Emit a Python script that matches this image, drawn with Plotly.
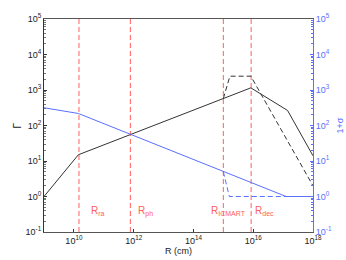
import math
import plotly.graph_objects as go

# ---- data ----
R_gamma = [1e9, 10**10.15, 10**15.92, 10**17.15, 1e18]
Gamma = [1.0, 15.0, 1150.0, 265.0, 14.0]

R_gamma_ic = [10**15.0, 10**15.22, 10**15.92, 1e18]
Gamma_ic = [575.0, 2450.0, 2450.0, 2.0]

R_sigma = [1e9, 10**10.15, 10**17.1, 1e18]
Sigma1 = [316.0, 218.0, 1.0, 1.0]

R_sigma_ic = [10**15.0, 10**15.2, 1e18]
Sigma1_ic = [5.0, 1.0, 1.0]

radii_names = ["ra", "ph", "ICMART", "dec"]
radii_vals = [10**10.17, 10**11.89, 10**15.0, 10**15.93]
label_x = [10**10.52, 10**12.07, 10**14.52, 10**15.99]
label_y = 10**-0.42

y_ticks = [1e-1, 1, 10, 100, 1e3, 1e4, 1e5]
y_ticktext = ["10<sup>-1</sup>", "10<sup>0</sup>", "10<sup>1</sup>", "10<sup>2</sup>",
              "10<sup>3</sup>", "10<sup>4</sup>", "10<sup>5</sup>"]
x_ticks = [1e10, 1e12, 1e14, 1e16, 1e18]
x_ticktext = ["10<sup>10</sup>", "10<sup>12</sup>", "10<sup>14</sup>", "10<sup>16</sup>", "10<sup>18</sup>"]

minor_vals = [m * 10**e for e in range(-1, 5) for m in range(2, 10)]

BLACK = "#333333"
BLUE = "#5a70ff"
RED = "#ff6060"
FONT = "Liberation Sans, Arial, sans-serif"
DASH = "5px,3px"

fig = go.Figure()

# red vertical radius markers
for rv in radii_vals:
    fig.add_trace(go.Scatter(x=[rv, rv], y=[1e-1, 1e5], mode="lines",
                             line=dict(color=RED, width=1, dash=DASH),
                             showlegend=False, hoverinfo="skip"))

fig.add_trace(go.Scatter(x=R_gamma, y=Gamma, mode="lines",
                         line=dict(color=BLACK, width=1), showlegend=False))
fig.add_trace(go.Scatter(x=R_gamma_ic, y=Gamma_ic, mode="lines",
                         line=dict(color=BLACK, width=1, dash=DASH), showlegend=False))
fig.add_trace(go.Scatter(x=R_sigma, y=Sigma1, mode="lines", yaxis="y2",
                         line=dict(color=BLUE, width=1), showlegend=False))
fig.add_trace(go.Scatter(x=R_sigma_ic, y=Sigma1_ic, mode="lines", yaxis="y2",
                         line=dict(color=BLUE, width=1, dash=DASH), showlegend=False))

# radius labels (annotation coords on log axes are log10 values)
for name, lx in zip(radii_names, label_x):
    fig.add_annotation(x=math.log10(lx), y=math.log10(label_y), xref="x", yref="y",
                       text="R<sub>" + name + "</sub>",
                       showarrow=False, xanchor="left", yanchor="middle",
                       font=dict(color=RED, size=10, family=FONT))

# axis titles
fig.add_annotation(x=0.5, y=-0.088, xref="paper", yref="paper", text="R (cm)",
                   showarrow=False, xanchor="center", yanchor="middle",
                   font=dict(size=9, family=FONT, color="#222222"))
fig.add_annotation(x=-0.097, y=0.5, xref="paper", yref="paper", text="Γ",
                   showarrow=False, textangle=-90, xanchor="center", yanchor="middle",
                   font=dict(size=10, family=FONT, color="#222222"))
fig.add_annotation(x=1.10, y=0.5, xref="paper", yref="paper", text="1+σ",
                   showarrow=False, textangle=-90, xanchor="center", yanchor="middle",
                   font=dict(size=9, family=FONT, color=BLUE))

fig.update_layout(
    width=346, height=260,
    margin=dict(l=44, r=33, t=19, b=28),
    paper_bgcolor="white", plot_bgcolor="white",
    font=dict(family=FONT, size=9, color="#222222"),
    xaxis=dict(type="log", range=[9, 18], tickvals=x_ticks, ticktext=x_ticktext,
               ticks="inside", ticklen=3, tickcolor=BLACK, showgrid=False, zeroline=False,
               showline=True, linecolor="#555555", linewidth=1, mirror=True),
    yaxis=dict(type="log", range=[-1, 5], tickvals=y_ticks, ticktext=y_ticktext,
               ticks="inside", ticklen=3, tickcolor=BLACK, showgrid=False, zeroline=False,
               showline=True, linecolor=BLACK, linewidth=1,
               minor=dict(tickvals=minor_vals, ticks="inside", ticklen=2, tickcolor="#777777")),
    yaxis2=dict(type="log", range=[-1, 5], tickvals=y_ticks, ticktext=y_ticktext,
                overlaying="y", side="right", anchor="x",
                ticks="inside", ticklen=3, tickcolor=BLUE, showgrid=False, zeroline=False,
                showline=True, linecolor=BLUE, linewidth=1,
                tickfont=dict(color=BLUE),
                minor=dict(tickvals=minor_vals, ticks="inside", ticklen=2, tickcolor=BLUE)),
)

fig.write_html("out.html", config={"displayModeBar": False},
               post_script="document.body.style.margin='0';")
